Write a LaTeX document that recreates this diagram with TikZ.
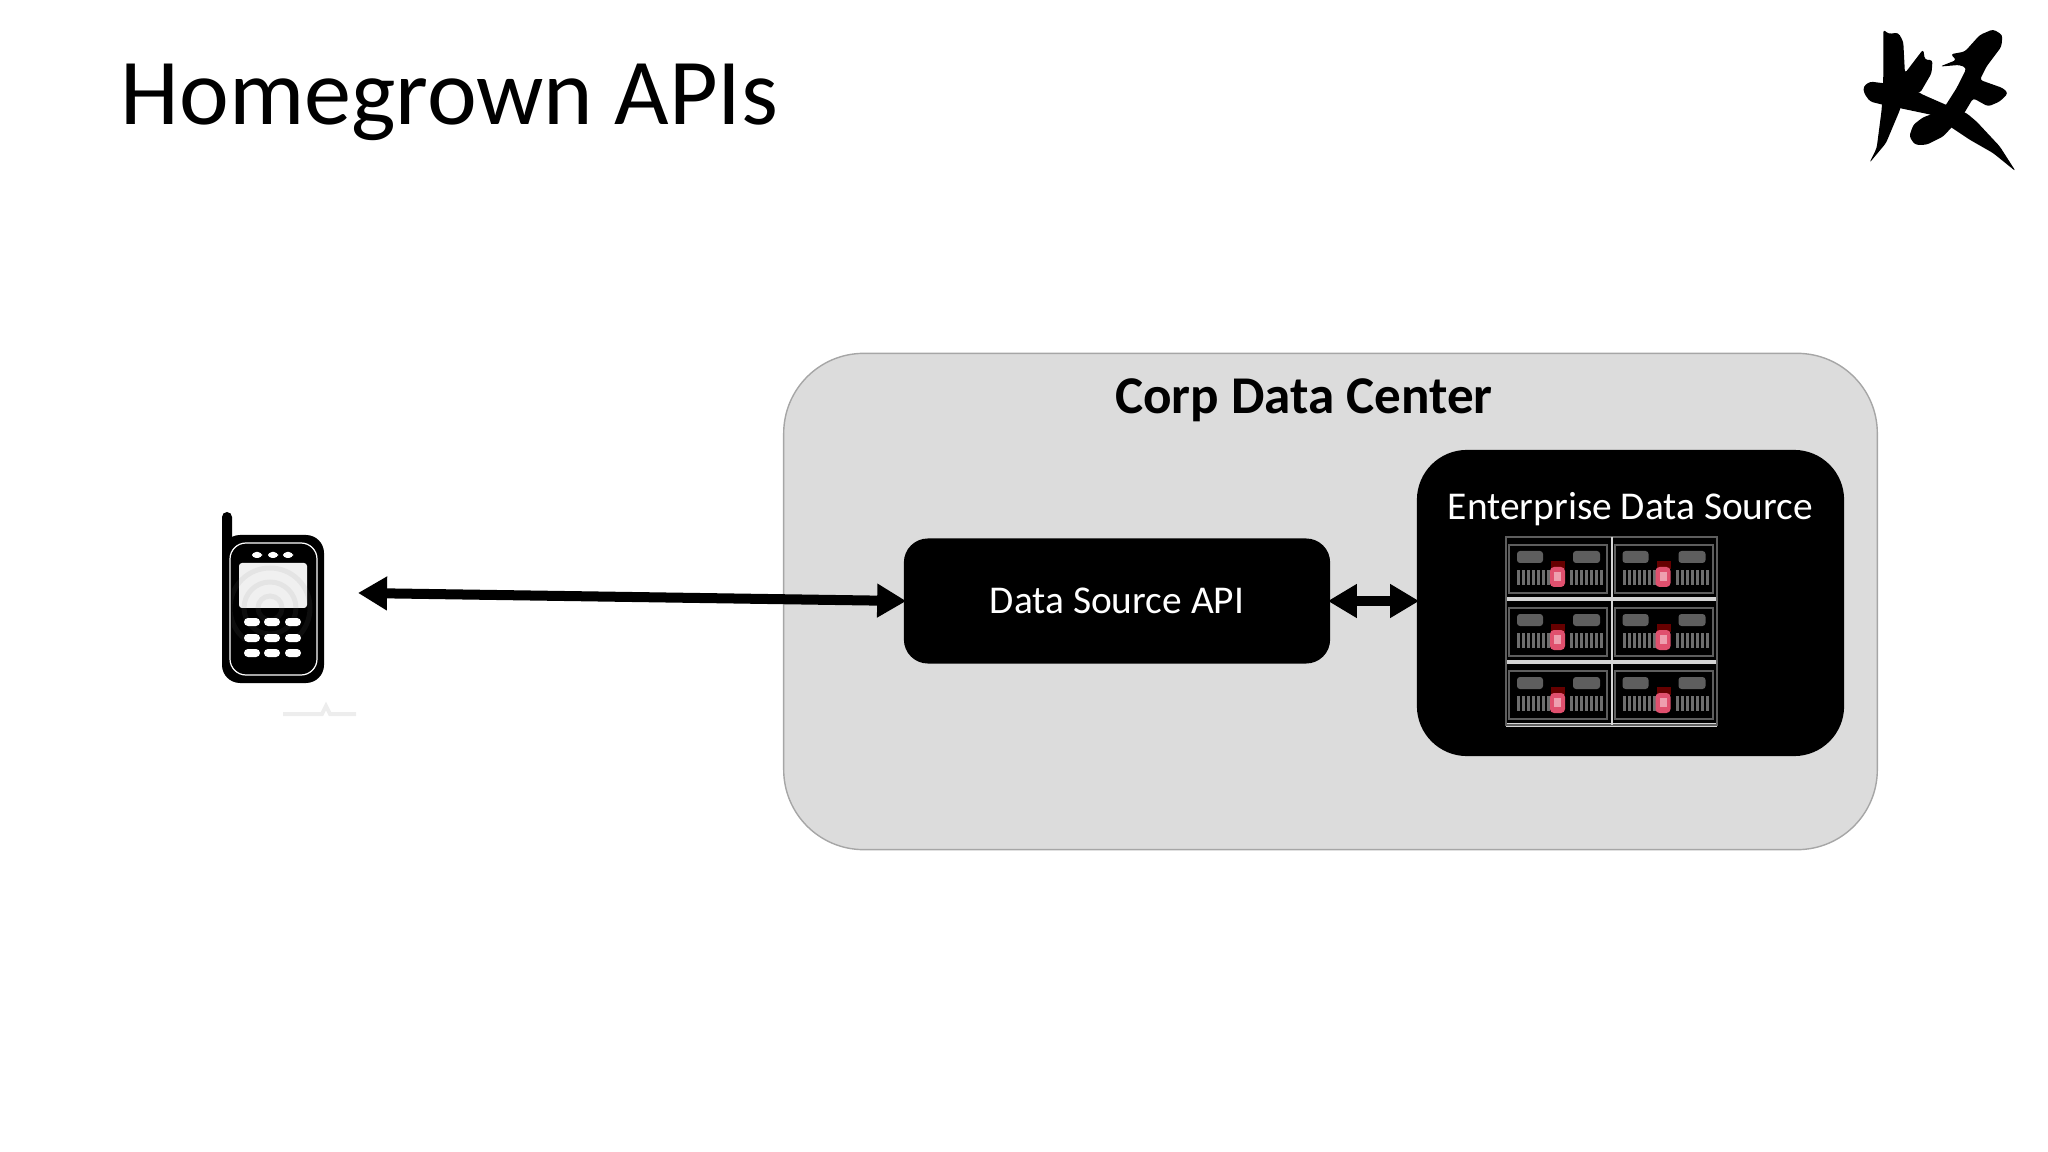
\documentclass[tikz,border=0pt]{standalone}
\usepackage{fontspec}
\setmainfont{Carlito}
\usepackage{tikz}
\usetikzlibrary{arrows.meta}

\definecolor{dcgray}{HTML}{DCDCDC}
\definecolor{dcedge}{HTML}{A6A6A6}
\definecolor{rackline}{HTML}{D4D4D4}
\definecolor{rackgray}{HTML}{5E5E5E}
\definecolor{rackbar}{HTML}{6E6E6E}
\definecolor{rackred}{HTML}{E0506E}

\begin{document}
\begin{tikzpicture}[
    x=0.01cm, y=-0.01cm,
    title/.style={anchor=base west, inner sep=0pt, font=\fontsize{26.8}{30}\selectfont},
    datacenter/.style={draw=dcedge, line width=0.4pt, fill=dcgray, rounded corners=0.8cm,
    minimum width=10.93cm, minimum height=4.96cm, inner sep=0pt},
    blackbox/.style={fill=black, text=white, inner sep=0pt,
    font=\fontsize{11.2}{13}\selectfont},
    link/.style={line width=0.1cm, shorten <=-0.03cm, shorten >=-0.03cm,
    {Triangle[length=0.29cm, width=0.32cm]}-{Triangle[length=0.29cm, width=0.32cm]}},
    pill/.style={fill=white, rounded corners=0.04cm},
    ]

    \useasboundingbox (0,0) rectangle (2048,1152);

    % title
    \node[title] (heading) at (120,125) {Homegrown APIs};

    % data center
    \node[datacenter] (corp) at (1330.5,601.5) {};
    \node[anchor=base, font=\fontsize{15.1}{17}\selectfont\bfseries] (corplabel) at (1304,414) {Corp Data Center};
    \node[blackbox, rounded corners=0.24cm, minimum width=4.26cm, minimum height=1.25cm] (api) at (1117,601) {Data Source API};
    \node[blackbox, rounded corners=0.5cm, minimum width=4.27cm, minimum height=3.06cm] (source) at (1630.5,603) {};
    \node[anchor=center, text=white, font=\fontsize{11.2}{13}\selectfont] (sourcelabel) at (1630.5,509) {Enterprise Data Source};

    % server rack
    \foreach \col in {0,1} {
        \foreach \row in {0,1,2} {
            \begin{scope}[shift={(1506+105.5*\col,537+63*\row)}]
                \draw[rackgray, line width=0.02cm] (3,8) rectangle (101,56);
                \fill[rackgray, rounded corners=0.03cm] (11,14) rectangle (37,26);
                \fill[rackgray, rounded corners=0.03cm] (67,14) rectangle (94,26);
                \foreach \bar in {11,16,...,41} {
                    \fill[rackbar] (\bar,33) rectangle ++(3,15);
                }
                \foreach \bar in {64,69,...,94} {
                    \fill[rackbar] (\bar,33) rectangle ++(3,15);
                }
                \fill[red!40!black] (45,24) rectangle (59,32);
                \fill[rackred, rounded corners=0.04cm] (44,30) rectangle (59,50);
                \fill[rackred!55!white] (48,35) rectangle (55,44);
            \end{scope}
        }
    }
    \foreach \liney in {599,662,725} {
        \draw[rackline, line width=0.04cm] (1506,\liney) -- (1717,\liney);
    }
    \draw[rackgray, line width=0.015cm] (1506,537) rectangle (1717,725);
    \draw[rackline, line width=0.025cm] (1612,537) -- (1612,725);

    % phone
    \fill[black, rounded corners=0.05cm] (222,512) rectangle (232,570);
    \fill[black, rounded corners=0.18cm] (222,535) rectangle (324,683);
    \draw[white, line width=0.012cm, rounded corners=0.16cm] (230,543) rectangle (317,675);
    \foreach \spk in {257,273,288} {
        \fill[pill] (\spk-5,552) rectangle (\spk+5,558);
    }
    \fill[white!94!black, rounded corners=0.03cm] (239,563) rectangle (307,608);
    \begin{scope}
        \clip (232,548) rectangle (316,640);
        \foreach \ring in {12,26,40} {
            \draw[gray, opacity=0.1, line width=0.05cm] (270,608) circle (\ring);
        }
    \end{scope}
    \foreach \keyy in {622,638,653} {
        \foreach \keyx in {252,272,293} {
            \fill[pill] (\keyx-8,\keyy-4) rectangle (\keyx+8,\keyy+4);
        }
    }
    % smudge under the phone
    \draw[black!7, line width=0.04cm] (283,714) -- (322,714) -- (326,706) -- (330,714) -- (356,714);

    % links
    \coordinate (phoneend) at (361,593);
    \draw[link] (phoneend) -- (api.west);
    \draw[link] (api.east) -- (api.east -| source.west);

    % logo
    \begin{scope}[shift={(1860,10)}, x=0.00333cm, y=-0.00333cm]
        \fill[black, rounded corners=0.03cm] (70,58) -- (85,72) -- (115,68) -- (130,95) -- (135,190)
            -- (190,118) -- (195,150) -- (218,150) -- (215,190) -- (180,250) -- (135,240)
            -- (120,300) -- (78,400) -- (28,460) -- (50,415) -- (65,300) -- (70,200) -- cycle;
        \fill[black, rounded corners=0.03cm] (10,230) -- (30,215) -- (70,220) -- (135,225)
            -- (190,255) -- (270,290) -- (320,310) -- (350,335) -- (420,410) -- (468,485)
            -- (400,430) -- (330,390) -- (270,350) -- (215,315) -- (120,295) -- (70,285)
            -- (30,275) -- (12,250) -- cycle;
        \fill[black, rounded corners=0.03cm] (400,58) -- (428,75) -- (425,110) -- (380,170)
            -- (360,210) -- (430,235) -- (445,250) -- (420,275) -- (385,290) -- (340,265)
            -- (310,315) -- (250,380) -- (200,405) -- (165,405) -- (148,380) -- (160,345)
            -- (190,322) -- (220,312) -- (255,290) -- (290,235) -- (320,175) -- (300,165)
            -- (240,170) -- (290,150) -- (272,133) -- (315,125) -- (360,75) -- cycle;
    \end{scope}

\end{tikzpicture}
\end{document}
